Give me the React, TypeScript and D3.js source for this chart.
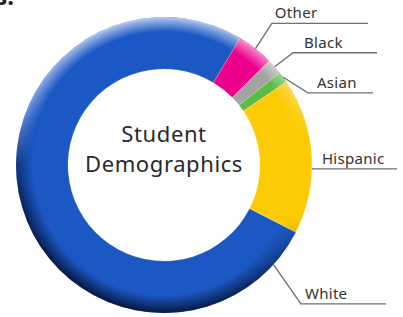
import { useEffect, useRef } from 'react';
import * as d3 from 'd3';

// slice order follows the ring clockwise, starting at the Hispanic/White edge
const categories = ['White', 'Other', 'Black', 'Asian', 'Hispanic'];
const shares = [76.1, 4.0, 1.7, 1.2, 17.0];
const colors = ['#1c58c4', '#ec008c', '#a3a3a3', '#5cbb46', '#fdcb05'];
const centerTitle = ['Student', 'Demographics'];

// label leader layout: anchor angle (deg, null = slice middle), elbow polar point, line end x, text offset
const labelLayout: Record<string, { anchor: number | null; elbowAngle: number; elbowR: number; endX: number; dx: number }> = {
  Other: { anchor: null, elbowAngle: 37.3, elbowR: 178, endX: 368, dx: 3 },
  Black: { anchor: null, elbowAngle: 49, elbowR: 171, endX: 377, dx: 11 },
  Asian: { anchor: null, elbowAngle: 63.4, elbowR: 161, endX: 373, dx: 9 },
  Hispanic: { anchor: 91.5, elbowAngle: 91.5, elbowR: 149, endX: 397, dx: 9 },
  White: { anchor: 132.3, elbowAngle: 135.4, elbowR: 195, endX: 386, dx: 4 },
};

export default function App() {
  const svgRef = useRef<SVGSVGElement>(null);

  useEffect(() => {
    if (!svgRef.current) return;
    const width = 403;
    const height = 317;
    const cx = 164;
    const cy = 165;
    const outerR = 148;
    const innerR = 96;
    const font = "'Noto Sans', sans-serif";

    d3.select(svgRef.current).selectAll('*').remove();
    const svg = d3.select(svgRef.current).attr('width', width).attr('height', height);
    const defs = svg.append('defs');

    // edge shading gradients (local coords, centred on the ring)
    const edge = (id: string, color: string, op: number, from: number) => {
      const rg = defs
        .append('radialGradient')
        .attr('id', id)
        .attr('gradientUnits', 'userSpaceOnUse')
        .attr('cx', 0)
        .attr('cy', 0)
        .attr('r', outerR);
      rg.append('stop').attr('offset', from).attr('stop-color', color).attr('stop-opacity', 0);
      rg.append('stop').attr('offset', 1).attr('stop-color', color).attr('stop-opacity', op);
    };
    edge('darkEdge', '#00081f', 0.85, 0.88);
    edge('lightEdge', '#ffffff', 0.7, 0.9);

    const dir = (id: string, stops: [number, number][], x1: number, y1: number, x2: number, y2: number) => {
      const lg = defs
        .append('linearGradient')
        .attr('id', id)
        .attr('gradientUnits', 'userSpaceOnUse')
        .attr('x1', x1 * outerR)
        .attr('y1', y1 * outerR)
        .attr('x2', x2 * outerR)
        .attr('y2', y2 * outerR);
      stops.forEach(([o, v]) => lg.append('stop').attr('offset', o).attr('stop-color', 'white').attr('stop-opacity', v));
      const m = defs
        .append('mask')
        .attr('id', id + 'Mask')
        .attr('maskUnits', 'userSpaceOnUse')
        .attr('x', -cx)
        .attr('y', -cy)
        .attr('width', width)
        .attr('height', height);
      m.append('rect').attr('x', -cx).attr('y', -cy).attr('width', width).attr('height', height).attr('fill', `url(#${id})`);
    };
    dir('bottomDir', [[0, 0], [0.5, 0], [0.75, 0.75], [1, 1]], 0.4, -1, -0.4, 1);
    dir('topDir', [[0, 1], [0.2, 0.7], [0.45, 0], [1, 0]], -0.1, -1, 0.1, 1);

    const g = svg.append('g').attr('transform', `translate(${cx},${cy})`);
    const toRad = (d: number) => (d * Math.PI) / 180;
    const start = toRad(117);

    const pie = d3
      .pie<number>()
      .sort(null)
      .startAngle(start)
      .endAngle(start + 2 * Math.PI);
    const arcs = pie(shares);
    const arc = d3.arc<d3.PieArcDatum<number>>().innerRadius(innerR).outerRadius(outerR);

    g.selectAll('path.slice')
      .data(arcs)
      .enter()
      .append('path')
      .attr('class', 'slice')
      .attr('d', arc)
      .attr('fill', (_, i) => colors[i])
      .attr('stroke', 'rgba(255,255,255,0.35)')
      .attr('stroke-width', 0.5);

    const ring = d3.arc()({ innerRadius: innerR, outerRadius: outerR, startAngle: 0, endAngle: 2 * Math.PI } as any) as string;
    g.append('path').attr('d', ring).attr('fill', 'url(#darkEdge)').attr('mask', 'url(#bottomDirMask)');
    g.append('path').attr('d', ring).attr('fill', 'url(#lightEdge)').attr('mask', 'url(#topDirMask)');

    // leader lines and labels
    const polar = (deg: number, r: number): [number, number] => [r * Math.sin(toRad(deg)), -r * Math.cos(toRad(deg))];
    arcs.forEach((a, i) => {
      const name = categories[i];
      const lay = labelLayout[name];
      const mid = (((a.startAngle + a.endAngle) / 2) * 180) / Math.PI;
      const anchor = lay.anchor ?? mid;
      const p0 = polar(anchor, outerR);
      const p1 = polar(lay.elbowAngle, lay.elbowR);
      const p2: [number, number] = [lay.endX - cx, p1[1]];
      g.append('path')
        .attr('d', d3.line()([p0, p1, p2]))
        .attr('fill', 'none')
        .attr('stroke', '#707070')
        .attr('stroke-width', 1.4);
      g.append('text')
        .attr('x', p1[0] + lay.dx)
        .attr('y', p1[1] - 5)
        .style('font-family', font)
        .style('font-size', '15px')
        .style('font-weight', 400)
        .style('letter-spacing', '0.3px')
        .style('fill', '#333')
        .text(name);
    });

    // centre title
    g.selectAll('text.title')
      .data(centerTitle)
      .enter()
      .append('text')
      .attr('class', 'title')
      .attr('x', 0)
      .attr('y', (_, i) => -23 + i * 30)
      .attr('text-anchor', 'middle')
      .style('font-family', font)
      .style('font-size', '22px')
      .style('font-weight', 400)
      .style('letter-spacing', '0.6px')
      .style('fill', '#2a2a2a')
      .text((d) => d);

    // clipped heading fragment from above the crop
    svg
      .append('text')
      .attr('x', 14)
      .attr('y', 5)
      .attr('text-anchor', 'end')
      .style('font-family', font)
      .style('font-size', '24px')
      .style('font-weight', 700)
      .style('fill', '#222')
      .text('s.');
  }, []);

  return (
    <div style={{ position: 'absolute', left: 0, top: 0 }}>
      <svg ref={svgRef} />
    </div>
  );
}
